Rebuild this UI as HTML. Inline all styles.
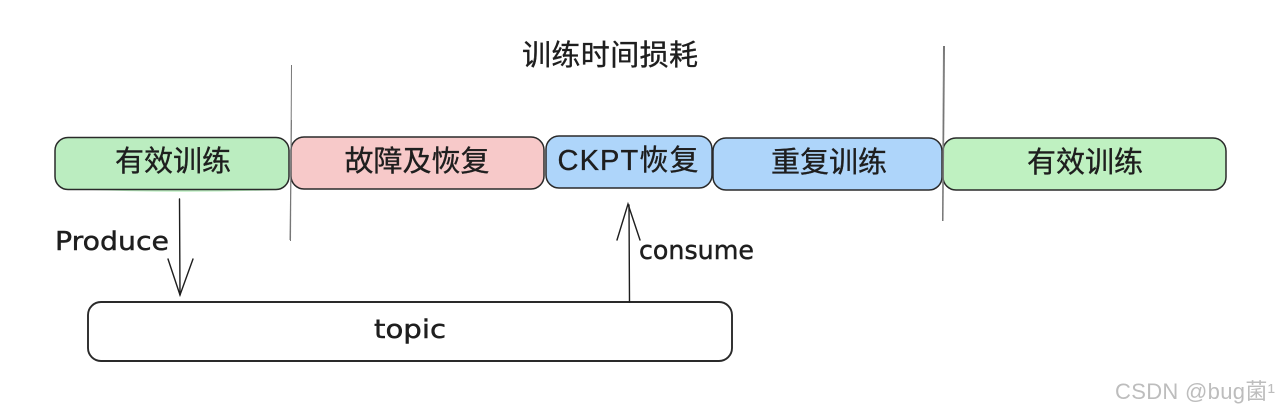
<!DOCTYPE html>
<html>
<head>
<meta charset="utf-8">
<style>
html,body{margin:0;padding:0;background:#fff;width:1280px;height:413px;overflow:hidden}
svg{display:block}
text{fill:#1e1e1e}
.c{font-family:"Liberation Sans","Noto Sans CJK SC",sans-serif;font-size:29px;text-anchor:middle;stroke:#1e1e1e;stroke-width:.35}
.l{font-family:"DejaVu Sans","Liberation Sans",sans-serif;font-size:26px;stroke:#1e1e1e;stroke-width:.45}
</style>
</head>
<body>
<svg width="1280" height="413" viewBox="0 0 1280 413" xmlns="http://www.w3.org/2000/svg">
<rect width="1280" height="413" fill="#fff"/>
<path d="M70 189 Q170 194 280 190 L70 188Z" fill="#bbedc0"/>
<g stroke="#2a2a2a" stroke-width="1.5">
<rect x="55" y="137.5" width="234" height="52" rx="13" fill="#bbedc0"/>
<rect x="291" y="137" width="253" height="52" rx="13" fill="#f7c9c9"/>
<rect x="546" y="136" width="166" height="52" rx="13" fill="#aed5fa"/>
<rect x="713" y="138" width="229" height="52" rx="13" fill="#aed5fa"/>
<rect x="943" y="138" width="283" height="52" rx="13" fill="#bff1c1"/>
<rect x="88" y="302" width="644" height="59" rx="13" fill="#fff" stroke-width="1.9"/>
</g>
<g stroke="#777" stroke-width="1" fill="none">
<path d="M291.5 65 L290.5 241"/><path d="M291.5 120 L290 240"/>
<path d="M943.5 46 L942.5 221"/><path d="M944.5 46 L943 221"/>
</g>
<g stroke="#1e1e1e" stroke-width="1.4" fill="none" stroke-linecap="round">
<path d="M179.5 199 L180 295"/>
<path d="M168 259 L180 295 L193 259"/>
<path d="M629.5 302 L629 205"/>
<path d="M617 240 L628 204 L640 240"/>
</g>
<text class="c" x="610" y="65" textLength="176" lengthAdjust="spacing">训练时间损耗</text>
<text class="c" x="173" y="171" textLength="116" lengthAdjust="spacing">有效训练</text>
<text class="c" x="417" y="171" textLength="145" lengthAdjust="spacing">故障及恢复</text>
<text class="c" x="628" y="170" textLength="141" lengthAdjust="spacing">CKPT恢复</text>
<text class="c" x="829" y="172" textLength="116" lengthAdjust="spacing">重复训练</text>
<text class="c" x="1085" y="172" textLength="116" lengthAdjust="spacing">有效训练</text>
<text class="l" x="55" y="250" textLength="114" lengthAdjust="spacingAndGlyphs">Produce</text>
<text class="l" x="639" y="259" textLength="115" lengthAdjust="spacingAndGlyphs">consume</text>
<text class="l" x="374" y="338" textLength="72" lengthAdjust="spacingAndGlyphs">topic</text>
<text x="1115" y="399" style="fill:#bdbdbd;font-family:'Liberation Sans','Noto Sans CJK SC',sans-serif;font-size:22px" textLength="160" lengthAdjust="spacing">CSDN @bug菌¹</text>
</svg>
</body>
</html>
